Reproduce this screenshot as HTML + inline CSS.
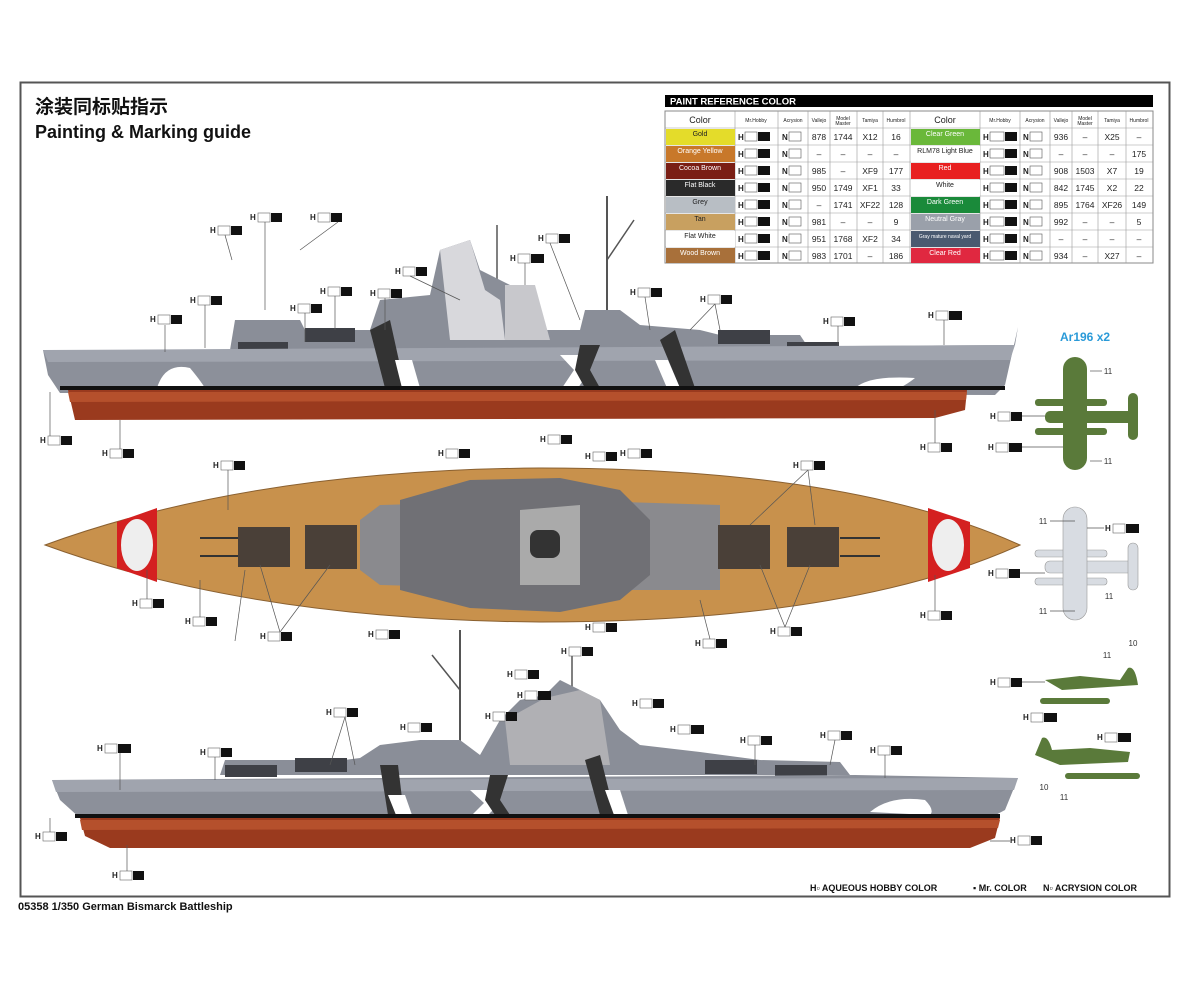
<!DOCTYPE html>
<html><head><meta charset="utf-8"><style>
html,body{margin:0;padding:0;background:#fff;}
svg{display:block;font-family:"Liberation Sans","Noto Sans CJK SC",sans-serif;}
</style></head><body>
<svg width="1200" height="982" viewBox="0 0 1200 982" xmlns="http://www.w3.org/2000/svg">
<defs>
<g id="lb">
</g>
</defs>
<rect x="0" y="0" width="1200" height="982" fill="#fff"/>
<rect x="20.5" y="82.5" width="1149" height="814" fill="none" stroke="#555" stroke-width="2"/>
<text x="35" y="113" font-size="19" font-weight="bold" font-family="'Noto Sans CJK SC',sans-serif" fill="#111">涂装同标贴指示</text>
<text x="35" y="138" font-size="18" font-weight="bold" fill="#111">Painting &amp; Marking guide</text>
<text x="18" y="910" font-size="11" font-weight="bold" fill="#111">05358 1/350 German Bismarck Battleship</text>
<text x="810" y="891" font-size="9" font-weight="bold" fill="#111">H▫ AQUEOUS HOBBY COLOR</text>
<text x="973" y="891" font-size="9" font-weight="bold" fill="#111">▪ Mr. COLOR</text>
<text x="1043" y="891" font-size="9" font-weight="bold" fill="#111">N▫ ACRYSION COLOR</text>

<!-- PAINT TABLE -->
<rect x="665" y="95" width="488" height="12" fill="#000"/>
<text x="670" y="104.5" font-size="9.5" font-weight="bold" fill="#fff">PAINT  REFERENCE COLOR</text>
<g font-size="7" text-anchor="middle" fill="#222">
<rect x="665" y="111" width="488" height="152" fill="#fff" stroke="#888"/>
<g stroke="#999" stroke-width="0.6">
<line x1="735" y1="111" x2="735" y2="263"/><line x1="778" y1="111" x2="778" y2="263"/><line x1="808" y1="111" x2="808" y2="263"/><line x1="830" y1="111" x2="830" y2="263"/><line x1="857" y1="111" x2="857" y2="263"/><line x1="883" y1="111" x2="883" y2="263"/><line x1="910" y1="111" x2="910" y2="263"/><line x1="980" y1="111" x2="980" y2="263"/><line x1="1020" y1="111" x2="1020" y2="263"/><line x1="1050" y1="111" x2="1050" y2="263"/><line x1="1072" y1="111" x2="1072" y2="263"/><line x1="1098" y1="111" x2="1098" y2="263"/><line x1="1126" y1="111" x2="1126" y2="263"/>
<line x1="665" y1="128" x2="1153" y2="128"/><line x1="665" y1="145" x2="1153" y2="145"/><line x1="665" y1="162" x2="1153" y2="162"/><line x1="665" y1="179" x2="1153" y2="179"/><line x1="665" y1="196" x2="1153" y2="196"/><line x1="665" y1="213" x2="1153" y2="213"/><line x1="665" y1="230" x2="1153" y2="230"/><line x1="665" y1="247" x2="1153" y2="247"/>
</g>
<text x="700" y="123" font-size="9">Color</text><text x="945" y="123" font-size="9">Color</text>
<g font-size="5"><text x="756" y="122">Mr.Hobby</text><text x="793" y="122">Acrysion</text><text x="819" y="122">Vallejo</text><text x="843" y="120">Model</text><text x="843" y="125">Master</text><text x="870" y="122">Tamiya</text><text x="896" y="122">Humbrol</text>
<text x="1000" y="122">Mr.Hobby</text><text x="1035" y="122">Acrysion</text><text x="1061" y="122">Vallejo</text><text x="1085" y="120">Model</text><text x="1085" y="125">Master</text><text x="1112" y="122">Tamiya</text><text x="1139" y="122">Humbrol</text></g>
<!-- swatches left -->
<rect x="666" y="129" width="69" height="16" fill="#e4dc2a"/>
<rect x="666" y="146" width="69" height="16" fill="#c8782a"/>
<rect x="666" y="163" width="69" height="16" fill="#7a1e14"/>
<rect x="666" y="180" width="69" height="16" fill="#2a2a2a"/>
<rect x="666" y="197" width="69" height="16" fill="#b8bec4"/>
<rect x="666" y="214" width="69" height="16" fill="#c8a060"/>
<rect x="666" y="231" width="69" height="16" fill="#fff"/>
<rect x="666" y="248" width="69" height="15" fill="#a8703a"/>
<rect x="911" y="129" width="69" height="16" fill="#6ab83a"/>
<rect x="911" y="146" width="69" height="16" fill="#fff"/>
<rect x="911" y="163" width="69" height="16" fill="#e82020"/>
<rect x="911" y="180" width="69" height="16" fill="#fff"/>
<rect x="911" y="197" width="69" height="16" fill="#1a8a3a"/>
<rect x="911" y="214" width="69" height="16" fill="#9aa0aa"/>
<rect x="911" y="231" width="69" height="16" fill="#4a5a70"/>
<rect x="911" y="248" width="69" height="15" fill="#e02840"/>
<g font-size="7">
<text x="700" y="136">Gold</text><text x="700" y="153" fill="#fff">Orange Yellow</text><text x="700" y="170" fill="#fff">Cocoa Brown</text><text x="700" y="187" fill="#fff">Flat Black</text><text x="700" y="204">Grey</text><text x="700" y="221">Tan</text><text x="700" y="238">Flat White</text><text x="700" y="255" fill="#fff">Wood Brown</text>
<text x="945" y="136" fill="#fff">Clear Green</text><text x="945" y="153">RLM78 Light Blue</text><text x="945" y="170" fill="#fff">Red</text><text x="945" y="187">White</text><text x="945" y="204" fill="#fff">Dark Green</text><text x="945" y="221" fill="#fff">Neutral Gray</text><text x="945" y="238" fill="#fff" font-size="5">Gray mature naval yard</text><text x="945" y="255" fill="#fff">Clear Red</text>
</g>
<g font-size="8.5">
<text x="819" y="140">878</text><text x="843" y="140">1744</text><text x="870" y="140">X12</text><text x="896" y="140">16</text>
<text x="819" y="157">–</text><text x="843" y="157">–</text><text x="870" y="157">–</text><text x="896" y="157">–</text>
<text x="819" y="174">985</text><text x="843" y="174">–</text><text x="870" y="174">XF9</text><text x="896" y="174">177</text>
<text x="819" y="191">950</text><text x="843" y="191">1749</text><text x="870" y="191">XF1</text><text x="896" y="191">33</text>
<text x="819" y="208">–</text><text x="843" y="208">1741</text><text x="870" y="208">XF22</text><text x="896" y="208">128</text>
<text x="819" y="225">981</text><text x="843" y="225">–</text><text x="870" y="225">–</text><text x="896" y="225">9</text>
<text x="819" y="242">951</text><text x="843" y="242">1768</text><text x="870" y="242">XF2</text><text x="896" y="242">34</text>
<text x="819" y="259">983</text><text x="843" y="259">1701</text><text x="870" y="259">–</text><text x="896" y="259">186</text>
<text x="1061" y="140">936</text><text x="1085" y="140">–</text><text x="1112" y="140">X25</text><text x="1139" y="140">–</text>
<text x="1061" y="157">–</text><text x="1085" y="157">–</text><text x="1112" y="157">–</text><text x="1139" y="157">175</text>
<text x="1061" y="174">908</text><text x="1085" y="174">1503</text><text x="1112" y="174">X7</text><text x="1139" y="174">19</text>
<text x="1061" y="191">842</text><text x="1085" y="191">1745</text><text x="1112" y="191">X2</text><text x="1139" y="191">22</text>
<text x="1061" y="208">895</text><text x="1085" y="208">1764</text><text x="1112" y="208">XF26</text><text x="1139" y="208">149</text>
<text x="1061" y="225">992</text><text x="1085" y="225">–</text><text x="1112" y="225">–</text><text x="1139" y="225">5</text>
<text x="1061" y="242">–</text><text x="1085" y="242">–</text><text x="1112" y="242">–</text><text x="1139" y="242">–</text>
<text x="1061" y="259">934</text><text x="1085" y="259">–</text><text x="1112" y="259">X27</text><text x="1139" y="259">–</text>
</g>
<!-- H / N codes -->
<g font-size="8" font-weight="bold" text-anchor="start">
<text x="738" y="140">H</text><text x="738" y="157">H</text><text x="738" y="174">H</text><text x="738" y="191">H</text><text x="738" y="208">H</text><text x="738" y="225">H</text><text x="738" y="242">H</text><text x="738" y="259">H</text>
<text x="782" y="140">N</text><text x="782" y="157">N</text><text x="782" y="174">N</text><text x="782" y="191">N</text><text x="782" y="208">N</text><text x="782" y="225">N</text><text x="782" y="242">N</text><text x="782" y="259">N</text>
<text x="983" y="140">H</text><text x="983" y="157">H</text><text x="983" y="174">H</text><text x="983" y="191">H</text><text x="983" y="208">H</text><text x="983" y="225">H</text><text x="983" y="242">H</text><text x="983" y="259">H</text>
<text x="1023" y="140">N</text><text x="1023" y="157">N</text><text x="1023" y="174">N</text><text x="1023" y="191">N</text><text x="1023" y="208">N</text><text x="1023" y="225">N</text><text x="1023" y="242">N</text><text x="1023" y="259">N</text>
</g>
<g fill="#fff" stroke="#555" stroke-width="0.6">
<rect x="745" y="132" width="12" height="9"/><rect x="745" y="149" width="12" height="9"/><rect x="745" y="166" width="12" height="9"/><rect x="745" y="183" width="12" height="9"/><rect x="745" y="200" width="12" height="9"/><rect x="745" y="217" width="12" height="9"/><rect x="745" y="234" width="12" height="9"/><rect x="745" y="251" width="12" height="9"/>
<rect x="789" y="132" width="12" height="9"/><rect x="789" y="149" width="12" height="9"/><rect x="789" y="166" width="12" height="9"/><rect x="789" y="183" width="12" height="9"/><rect x="789" y="200" width="12" height="9"/><rect x="789" y="217" width="12" height="9"/><rect x="789" y="234" width="12" height="9"/><rect x="789" y="251" width="12" height="9"/>
<rect x="990" y="132" width="14" height="9"/><rect x="990" y="149" width="14" height="9"/><rect x="990" y="166" width="14" height="9"/><rect x="990" y="183" width="14" height="9"/><rect x="990" y="200" width="14" height="9"/><rect x="990" y="217" width="14" height="9"/><rect x="990" y="234" width="14" height="9"/><rect x="990" y="251" width="14" height="9"/>
<rect x="1030" y="132" width="12" height="9"/><rect x="1030" y="149" width="12" height="9"/><rect x="1030" y="166" width="12" height="9"/><rect x="1030" y="183" width="12" height="9"/><rect x="1030" y="200" width="12" height="9"/><rect x="1030" y="217" width="12" height="9"/><rect x="1030" y="234" width="12" height="9"/><rect x="1030" y="251" width="12" height="9"/>
</g>
<g fill="#111">
<rect x="758" y="132" width="12" height="9"/><rect x="758" y="149" width="12" height="9"/><rect x="758" y="166" width="12" height="9"/><rect x="758" y="183" width="12" height="9"/><rect x="758" y="200" width="12" height="9"/><rect x="758" y="217" width="12" height="9"/><rect x="758" y="234" width="12" height="9"/><rect x="758" y="251" width="12" height="9"/>
<rect x="1005" y="132" width="12" height="9"/><rect x="1005" y="149" width="12" height="9"/><rect x="1005" y="166" width="12" height="9"/><rect x="1005" y="183" width="12" height="9"/><rect x="1005" y="200" width="12" height="9"/><rect x="1005" y="217" width="12" height="9"/><rect x="1005" y="234" width="12" height="9"/><rect x="1005" y="251" width="12" height="9"/>
</g>
</g>

<!-- TOP SIDE SHIP -->
<g>
<line x1="607" y1="196" x2="607" y2="350" stroke="#555" stroke-width="2"/>
<line x1="607" y1="260" x2="634" y2="220" stroke="#555" stroke-width="1.5"/>
<line x1="497" y1="225" x2="497" y2="350" stroke="#555" stroke-width="1.5"/>
<path d="M230,350 L235,320 L300,320 L305,330 L370,330 L380,300 L430,295 L440,250 L470,240 L480,270 L510,285 L530,290 L540,330 L580,330 L585,310 L620,310 L640,325 L700,330 L720,335 L800,335 L810,350 Z" fill="#8a8e98"/>
<path d="M440,250 L470,240 L485,290 L500,300 L505,340 L450,340 Z" fill="#d8d8dc"/>
<path d="M505,285 L535,285 L550,340 L505,340 Z" fill="#c8c8cc"/>
<rect x="238" y="342" width="50" height="10" fill="#3e4046"/>
<rect x="305" y="328" width="50" height="14" fill="#3e4046"/>
<rect x="718" y="330" width="52" height="14" fill="#3e4046"/>
<rect x="787" y="342" width="52" height="10" fill="#3e4046"/>
<path d="M43,350 L230,350 L1015,345 L1018,327 L1005,385 L995,395 L60,393 L48,375 Z" fill="#8c909a"/>
<path d="M43,350 L1015,345 L1010,360 L48,362 Z" fill="#a0a4ae"/>
<path d="M370,330 L390,320 L405,388 L385,388 Z" fill="#333"/>
<path d="M395,360 L412,360 L420,388 L402,388 Z" fill="#fff"/>
<path d="M560,355 L578,355 L590,370 L578,388 L562,388 L574,370 Z" fill="#fff"/>
<path d="M580,345 L600,345 L590,370 L600,388 L585,388 L575,370 Z" fill="#333"/>
<path d="M660,340 L675,330 L695,388 L680,388 Z" fill="#333"/>
<path d="M655,360 L668,360 L680,388 L667,388 Z" fill="#fff"/>
<path d="M157,388 Q165,362 190,368 Q200,380 205,388 Z" fill="#fff"/>
<path d="M855,388 Q870,375 915,378 Q905,386 895,390 Z" fill="#fff"/>
<rect x="60" y="386" width="945" height="4" fill="#111"/>
<path d="M68,390 L967,390 L965,410 L935,418 L75,420 Z" fill="#9a3a1e"/>
<path d="M68,392 L967,392 L966,400 L70,402 Z" fill="#b5502c"/>
</g>

<!-- DECK VIEW -->
<g>
<path d="M45,545 Q250,470 540,468 Q850,468 1020,545 Q850,622 540,622 Q250,620 45,545 Z" fill="#c8914c" stroke="#8a6030" stroke-width="1"/>
<path d="M117,522 L157,508 L157,582 L117,568 Z" fill="#d42020"/>
<ellipse cx="137" cy="545" rx="16" ry="26" fill="#eee"/>
<path d="M928,508 L970,522 L970,568 L928,582 Z" fill="#d42020"/>
<ellipse cx="948" cy="545" rx="16" ry="26" fill="#eee"/>
<path d="M360,520 L380,505 L560,500 L720,505 L720,590 L560,590 L380,585 L360,570 Z" fill="#8a8a8e"/>
<path d="M400,500 L470,480 L560,478 L620,490 L650,520 L650,575 L620,600 L560,612 L470,608 L400,590 Z" fill="#707075"/>
<path d="M520,510 L580,505 L580,585 L520,585 Z" fill="#aaa"/>
<rect x="530" y="530" width="30" height="28" rx="8" fill="#333"/>
<rect x="238" y="527" width="52" height="40" fill="#4a4038"/>
<rect x="305" y="525" width="52" height="44" fill="#4a4038"/>
<rect x="718" y="525" width="52" height="44" fill="#4a4038"/>
<rect x="787" y="527" width="52" height="40" fill="#4a4038"/>
<g stroke="#333" stroke-width="2"><line x1="200" y1="538" x2="238" y2="538"/><line x1="200" y1="556" x2="238" y2="556"/><line x1="840" y1="538" x2="880" y2="538"/><line x1="840" y1="556" x2="880" y2="556"/></g>
</g>

<!-- BOTTOM SIDE SHIP -->
<g>
<line x1="460" y1="630" x2="460" y2="775" stroke="#555" stroke-width="2"/>
<line x1="460" y1="690" x2="432" y2="655" stroke="#555" stroke-width="1.5"/>
<line x1="572" y1="650" x2="572" y2="775" stroke="#555" stroke-width="1.5"/>
<path d="M220,775 L225,760 L300,760 L305,765 L360,758 L380,745 L420,740 L460,740 L480,755 L500,720 L520,700 L545,695 L560,680 L580,690 L600,700 L620,730 L640,745 L700,752 L760,760 L840,762 L850,775 Z" fill="#8a8e98"/>
<path d="M505,720 L545,698 L580,690 L600,700 L610,765 L510,765 Z" fill="#b0b0b4"/>
<rect x="225" y="765" width="52" height="12" fill="#3e4046"/>
<rect x="295" y="758" width="52" height="14" fill="#3e4046"/>
<rect x="705" y="760" width="52" height="14" fill="#3e4046"/>
<rect x="775" y="765" width="52" height="12" fill="#3e4046"/>
<path d="M52,780 L855,775 L1018,778 L1005,810 L990,818 L80,818 L60,800 Z" fill="#8c909a"/>
<path d="M52,780 L1018,778 L1014,790 L56,792 Z" fill="#a0a4ae"/>
<path d="M380,765 L398,765 L404,815 L388,815 Z" fill="#333"/>
<path d="M388,795 L405,795 L412,815 L396,815 Z" fill="#fff"/>
<path d="M470,790 L488,790 L500,803 L488,815 L472,815 L484,803 Z" fill="#fff"/>
<path d="M490,775 L508,775 L500,800 L510,815 L495,815 L485,800 Z" fill="#333"/>
<path d="M585,760 L600,755 L615,815 L600,815 Z" fill="#333"/>
<path d="M605,790 L620,790 L628,815 L614,815 Z" fill="#fff"/>
<path d="M870,812 Q890,795 925,800 Q935,810 930,815 Z" fill="#fff"/>
<rect x="75" y="814" width="925" height="4" fill="#111"/>
<path d="M80,818 L1000,818 L995,838 L970,848 L110,848 L85,836 Z" fill="#9a3a1e"/>
<path d="M80,820 L1000,820 L998,828 L82,830 Z" fill="#b5502c"/>
</g>

<!-- AIRCRAFT -->
<text x="1060" y="341" font-size="12" font-weight="bold" fill="#2a9ad8">Ar196 x2</text>
<g fill="#5a7a3a">
<rect x="1035" y="399" width="72" height="7" rx="3"/><rect x="1035" y="428" width="72" height="7" rx="3"/>
<rect x="1045" y="411" width="88" height="12" rx="5"/>
<rect x="1063" y="357" width="24" height="113" rx="12"/>
<rect x="1128" y="393" width="10" height="47" rx="5"/>
</g>
<g fill="#d8dce2" stroke="#999" stroke-width="0.6">
<rect x="1035" y="550" width="72" height="7" rx="3"/><rect x="1035" y="578" width="72" height="7" rx="3"/>
<rect x="1045" y="561" width="88" height="12" rx="5"/>
<rect x="1063" y="507" width="24" height="113" rx="12"/>
<rect x="1128" y="543" width="10" height="47" rx="5"/>
</g>
<g fill="#5a7a3a">
<path d="M1045,680 L1080,676 L1120,680 L1128,668 Q1135,665 1138,685 L1062,690 Z"/>
<rect x="1040" y="698" width="70" height="6" rx="3"/>
<path d="M1035,755 L1042,738 Q1048,735 1052,750 L1090,748 L1130,752 L1128,762 L1060,765 Z"/>
<rect x="1065" y="773" width="75" height="6" rx="3"/>
</g>
<g font-size="8" fill="#333" text-anchor="middle">
<text x="1108" y="374">11</text><text x="1108" y="464">11</text><text x="1043" y="524">11</text><text x="1109" y="599">11</text><text x="1043" y="614">11</text><text x="1133" y="646">10</text><text x="1107" y="658">11</text><text x="1044" y="790">10</text><text x="1064" y="800">11</text>
</g>

<!-- LABELS -->
<g font-size="7" font-weight="bold">
<!-- each: H text, white box, black box -->
<g id="labels"></g>
</g>
<g font-size="8" font-weight="bold" fill="#222">
<script></script>
</g>
<g fill="#222" font-size="8" font-weight="bold">
<text x="210" y="233">H</text><text x="250" y="220">H</text><text x="310" y="220">H</text><text x="538" y="241">H</text><text x="510" y="261">H</text><text x="395" y="274">H</text><text x="370" y="296">H</text><text x="320" y="294">H</text><text x="290" y="311">H</text><text x="190" y="303">H</text><text x="150" y="322">H</text><text x="630" y="295">H</text><text x="700" y="302">H</text><text x="823" y="324">H</text><text x="928" y="318">H</text><text x="40" y="443">H</text><text x="102" y="456">H</text><text x="920" y="450">H</text>
<text x="213" y="468">H</text><text x="438" y="456">H</text><text x="540" y="442">H</text><text x="585" y="459">H</text><text x="620" y="456">H</text><text x="793" y="468">H</text><text x="132" y="606">H</text><text x="185" y="624">H</text><text x="260" y="639">H</text><text x="368" y="637">H</text><text x="585" y="630">H</text><text x="695" y="646">H</text><text x="770" y="634">H</text><text x="920" y="618">H</text>
<text x="507" y="677">H</text><text x="561" y="654">H</text><text x="517" y="698">H</text><text x="632" y="706">H</text><text x="326" y="715">H</text><text x="400" y="730">H</text><text x="485" y="719">H</text><text x="670" y="732">H</text><text x="97" y="751">H</text><text x="200" y="755">H</text><text x="740" y="743">H</text><text x="820" y="738">H</text><text x="870" y="753">H</text><text x="35" y="839">H</text><text x="1010" y="843">H</text><text x="112" y="878">H</text>
<text x="990" y="419">H</text><text x="988" y="450">H</text><text x="1105" y="531">H</text><text x="988" y="576">H</text><text x="990" y="685">H</text><text x="1097" y="740">H</text><text x="1023" y="720">H</text>
</g>
<g fill="#fff" stroke="#666" stroke-width="0.6">
<rect x="218" y="226" width="12" height="9"/><rect x="258" y="213" width="12" height="9"/><rect x="318" y="213" width="12" height="9"/><rect x="546" y="234" width="12" height="9"/><rect x="518" y="254" width="12" height="9"/><rect x="403" y="267" width="12" height="9"/><rect x="378" y="289" width="12" height="9"/><rect x="328" y="287" width="12" height="9"/><rect x="298" y="304" width="12" height="9"/><rect x="198" y="296" width="12" height="9"/><rect x="158" y="315" width="12" height="9"/><rect x="638" y="288" width="12" height="9"/><rect x="708" y="295" width="12" height="9"/><rect x="831" y="317" width="12" height="9"/><rect x="936" y="311" width="12" height="9"/><rect x="48" y="436" width="12" height="9"/><rect x="110" y="449" width="12" height="9"/><rect x="928" y="443" width="12" height="9"/>
<rect x="221" y="461" width="12" height="9"/><rect x="446" y="449" width="12" height="9"/><rect x="548" y="435" width="12" height="9"/><rect x="593" y="452" width="12" height="9"/><rect x="628" y="449" width="12" height="9"/><rect x="801" y="461" width="12" height="9"/><rect x="140" y="599" width="12" height="9"/><rect x="193" y="617" width="12" height="9"/><rect x="268" y="632" width="12" height="9"/><rect x="376" y="630" width="12" height="9"/><rect x="593" y="623" width="12" height="9"/><rect x="703" y="639" width="12" height="9"/><rect x="778" y="627" width="12" height="9"/><rect x="928" y="611" width="12" height="9"/>
<rect x="515" y="670" width="12" height="9"/><rect x="569" y="647" width="12" height="9"/><rect x="525" y="691" width="12" height="9"/><rect x="640" y="699" width="12" height="9"/><rect x="334" y="708" width="12" height="9"/><rect x="408" y="723" width="12" height="9"/><rect x="493" y="712" width="12" height="9"/><rect x="678" y="725" width="12" height="9"/><rect x="105" y="744" width="12" height="9"/><rect x="208" y="748" width="12" height="9"/><rect x="748" y="736" width="12" height="9"/><rect x="828" y="731" width="12" height="9"/><rect x="878" y="746" width="12" height="9"/><rect x="43" y="832" width="12" height="9"/><rect x="1018" y="836" width="12" height="9"/><rect x="120" y="871" width="12" height="9"/>
<rect x="998" y="412" width="12" height="9"/><rect x="996" y="443" width="12" height="9"/><rect x="1113" y="524" width="12" height="9"/><rect x="996" y="569" width="12" height="9"/><rect x="998" y="678" width="12" height="9"/><rect x="1105" y="733" width="12" height="9"/><rect x="1031" y="713" width="12" height="9"/>
</g>
<g fill="#111">
<rect x="231" y="226" width="11" height="9"/><rect x="271" y="213" width="11" height="9"/><rect x="331" y="213" width="11" height="9"/><rect x="559" y="234" width="11" height="9"/><rect x="531" y="254" width="13" height="9"/><rect x="416" y="267" width="11" height="9"/><rect x="391" y="289" width="11" height="9"/><rect x="341" y="287" width="11" height="9"/><rect x="311" y="304" width="11" height="9"/><rect x="211" y="296" width="11" height="9"/><rect x="171" y="315" width="11" height="9"/><rect x="651" y="288" width="11" height="9"/><rect x="721" y="295" width="11" height="9"/><rect x="844" y="317" width="11" height="9"/><rect x="949" y="311" width="13" height="9"/><rect x="61" y="436" width="11" height="9"/><rect x="123" y="449" width="11" height="9"/><rect x="941" y="443" width="11" height="9"/>
<rect x="234" y="461" width="11" height="9"/><rect x="459" y="449" width="11" height="9"/><rect x="561" y="435" width="11" height="9"/><rect x="606" y="452" width="11" height="9"/><rect x="641" y="449" width="11" height="9"/><rect x="814" y="461" width="11" height="9"/><rect x="153" y="599" width="11" height="9"/><rect x="206" y="617" width="11" height="9"/><rect x="281" y="632" width="11" height="9"/><rect x="389" y="630" width="11" height="9"/><rect x="606" y="623" width="11" height="9"/><rect x="716" y="639" width="11" height="9"/><rect x="791" y="627" width="11" height="9"/><rect x="941" y="611" width="11" height="9"/>
<rect x="528" y="670" width="11" height="9"/><rect x="582" y="647" width="11" height="9"/><rect x="538" y="691" width="13" height="9"/><rect x="653" y="699" width="11" height="9"/><rect x="347" y="708" width="11" height="9"/><rect x="421" y="723" width="11" height="9"/><rect x="506" y="712" width="11" height="9"/><rect x="691" y="725" width="13" height="9"/><rect x="118" y="744" width="13" height="9"/><rect x="221" y="748" width="11" height="9"/><rect x="761" y="736" width="11" height="9"/><rect x="841" y="731" width="11" height="9"/><rect x="891" y="746" width="11" height="9"/><rect x="56" y="832" width="11" height="9"/><rect x="1031" y="836" width="11" height="9"/><rect x="133" y="871" width="11" height="9"/>
<rect x="1011" y="412" width="11" height="9"/><rect x="1009" y="443" width="13" height="9"/><rect x="1126" y="524" width="13" height="9"/><rect x="1009" y="569" width="11" height="9"/><rect x="1011" y="678" width="11" height="9"/><rect x="1118" y="733" width="13" height="9"/><rect x="1044" y="713" width="13" height="9"/>
</g>
<!-- leader lines -->
<g stroke="#555" stroke-width="0.7" fill="none">
<line x1="165" y1="325" x2="165" y2="352"/><line x1="205" y1="305" x2="205" y2="348"/><line x1="305" y1="313" x2="305" y2="342"/><line x1="335" y1="296" x2="335" y2="330"/><line x1="385" y1="298" x2="385" y2="330"/><line x1="225" y1="235" x2="232" y2="260"/><line x1="265" y1="222" x2="265" y2="310"/><line x1="338" y1="222" x2="300" y2="250"/><line x1="550" y1="243" x2="580" y2="320"/><line x1="525" y1="263" x2="525" y2="285"/><line x1="410" y1="276" x2="460" y2="300"/><line x1="645" y1="297" x2="650" y2="330"/><line x1="715" y1="304" x2="690" y2="330"/><line x1="715" y1="304" x2="720" y2="330"/><line x1="838" y1="326" x2="838" y2="345"/><line x1="944" y1="320" x2="944" y2="345"/><line x1="50" y1="436" x2="50" y2="392"/><line x1="120" y1="449" x2="120" y2="420"/><line x1="935" y1="443" x2="935" y2="410"/>
<line x1="228" y1="470" x2="228" y2="510"/><line x1="235" y1="641" x2="245" y2="570"/><line x1="280" y1="632" x2="260" y2="565"/><line x1="280" y1="632" x2="330" y2="565"/><line x1="200" y1="617" x2="200" y2="580"/><line x1="147" y1="599" x2="147" y2="570"/><line x1="785" y1="627" x2="760" y2="565"/><line x1="785" y1="627" x2="810" y2="565"/><line x1="935" y1="611" x2="935" y2="575"/><line x1="808" y1="470" x2="750" y2="525"/><line x1="808" y1="470" x2="815" y2="525"/><line x1="710" y1="639" x2="700" y2="600"/>
<line x1="120" y1="753" x2="120" y2="790"/><line x1="215" y1="757" x2="215" y2="780"/><line x1="345" y1="717" x2="330" y2="765"/><line x1="345" y1="717" x2="355" y2="765"/><line x1="755" y1="745" x2="755" y2="765"/><line x1="835" y1="740" x2="830" y2="765"/><line x1="885" y1="755" x2="885" y2="778"/><line x1="1010" y1="841" x2="990" y2="841"/><line x1="127" y1="871" x2="127" y2="845"/><line x1="50" y1="832" x2="50" y2="818"/>
<line x1="1022" y1="416" x2="1045" y2="416"/><line x1="1022" y1="447" x2="1063" y2="447"/><line x1="1090" y1="371" x2="1102" y2="371"/><line x1="1090" y1="461" x2="1102" y2="461"/><line x1="1087" y1="528" x2="1104" y2="528"/><line x1="1020" y1="573" x2="1045" y2="573"/><line x1="1050" y1="521" x2="1075" y2="521"/><line x1="1050" y1="611" x2="1075" y2="611"/><line x1="1022" y1="682" x2="1045" y2="682"/>
</g>
</svg>
</body></html>
